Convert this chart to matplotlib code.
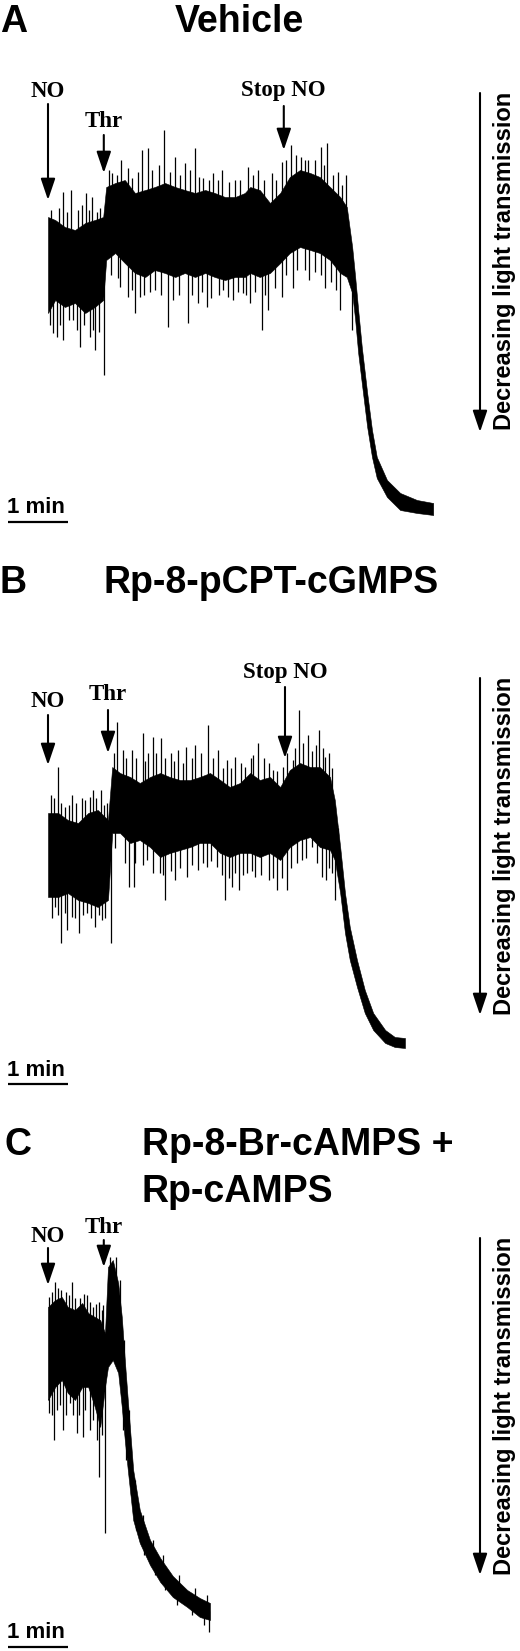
import numpy as np
import matplotlib
matplotlib.use('Agg')
import matplotlib.pyplot as plt
from matplotlib.transforms import blended_transform_factory as blend

W, H = 520, 1651
SANS = 'Liberation Sans'
SERIF = 'Liberation Serif'

# time in min (0 = NO added), light transmission in a.u. (0 = final level)
# dense band of the trace (upper / lower edge), tall spikes, and the
# shorter spikes that make the ragged edge of the band

# A  Vehicle
a_t = [0, .12, .28, .45, .62, .78, .92, .97, 1.12, 1.28, 1.45, 1.62, 1.78, 1.95, 2.12,
       2.28, 2.45, 2.62, 2.78, 2.95, 3.12, 3.28, 3.37, 3.53, 3.70, 3.87, 4.03, 4.20, 4.37,
       4.53, 4.70, 4.87, 4.98, 5.07, 5.12, 5.17, 5.23, 5.32, 5.40, 5.48, 5.65, 5.87, 6.15, 6.42]
a_hi = [293, 290, 283, 280, 287, 290, 293, 323, 327, 330, 317, 320, 323, 327, 323,
        320, 317, 320, 317, 313, 313, 317, 323, 320, 307, 317, 333, 340, 337,
        333, 323, 313, 303, 263, 233, 200, 163, 117, 80, 53, 30, 17, 10, 7]
a_lo = [197, 210, 203, 207, 197, 203, 210, 250, 257, 247, 237, 233, 240, 237, 233,
        237, 233, 237, 233, 230, 233, 233, 237, 233, 237, 247, 257, 263, 260,
        257, 250, 237, 233, 217, 190, 157, 127, 83, 53, 32, 13, 0, -3, -5]
a_up_t = [.25, .38, .63, .73, .87, 1.07, 1.22, 1.33, 1.57, 1.67, 1.93, 2.12, 2.28, 2.45, 2.58,
          2.75, 2.90, 3.12, 3.33, 3.50, 3.73, 3.90, 4.05, 4.22, 4.33, 4.55, 4.65, 4.83, 4.97]
a_up_v = [318, 320, 317, 313, 302, 337, 350, 342, 360, 362, 380, 353, 347, 362, 332,
          337, 340, 330, 343, 340, 337, 348, 365, 353, 350, 363, 367, 338, 335]
a_dn_t = [.08, .15, .25, .42, .53, .70, .78, .93, 1.20, 1.33, 1.45, 1.53, 1.78, 2.00, 2.08,
          2.33, 2.50, 2.65, 2.92, 3.08, 3.25, 3.37, 3.57, 3.67, 3.90, 4.08, 4.35, 4.62, 4.87, 5.07]
a_dn_v = [177, 173, 170, 190, 163, 173, 160, 135, 223, 213, 197, 213, 220, 183, 210,
          187, 207, 203, 220, 210, 217, 207, 180, 200, 213, 222, 230, 222, 200, 180]
a_up2_t = [.05, .18, .32, .50, .57, .68, .82, 1.02, 1.15, 1.40, 1.50, 1.73, 1.85, 2.03, 2.20,
           2.37, 2.52, 2.68, 2.83, 3.02, 3.20, 3.42, 3.60, 3.80, 3.97, 4.13, 4.28, 4.45, 4.60,
           4.75, 4.90]
a_up2_v = [300, 302, 298, 300, 305, 300, 298, 340, 335, 332, 338, 340, 345, 338, 335,
           340, 333, 330, 330, 328, 330, 335, 330, 330, 350, 355, 350, 350, 345,
           335, 325]
a_dn2_t = [.03, .20, .35, .48, .60, .75, .85, 1.05, 1.17, 1.40, 1.60, 1.70, 1.88, 2.18, 2.40,
           2.57, 2.72, 2.85, 3.00, 3.17, 3.30, 3.45, 3.62, 3.78, 3.97, 4.15, 4.28, 4.45, 4.55,
           4.72, 4.80]
a_dn2_v = [185, 185, 190, 180, 185, 180, 178, 235, 232, 220, 215, 218, 215, 215, 215,
           218, 212, 215, 213, 218, 215, 218, 215, 222, 235, 240, 240, 238, 235,
           228, 220]

# B  Rp-8-pCPT-cGMPS
b_t = [0, .17, .33, .5, .67, .83, 1.0, 1.07, 1.2, 1.37, 1.53, 1.7, 1.87, 2.03, 2.2, 2.37,
       2.53, 2.7, 2.87, 3.03, 3.2, 3.37, 3.53, 3.7, 3.87, 4.03, 4.2, 4.37, 4.53, 4.7,
       4.78, 4.87, 4.95, 5.03, 5.15, 5.28, 5.42, 5.62, 5.78, 5.95]
b_hi = [230, 230, 223, 220, 230, 233, 223, 276, 270, 266, 260, 266, 270, 266, 263, 263,
        266, 270, 263, 256, 260, 270, 263, 266, 256, 273, 280, 276, 276, 266,
        243, 196, 150, 116, 83, 53, 30, 13, 6, 5]
b_lo = [146, 146, 150, 143, 140, 136, 143, 210, 210, 200, 203, 196, 186, 190, 193, 196,
        200, 200, 190, 186, 190, 190, 186, 190, 183, 196, 203, 206, 196, 193,
        183, 150, 110, 83, 56, 30, 13, 0, -4, -5]
b_up_t = [.05, .17, .28, .40, .62, .70, .75, .88, .98, 1.15, 1.25, 1.40, 1.58, 1.67, 1.75, 1.88,
          2.05, 2.17, 2.30, 2.45, 2.67, 2.83, 2.98, 3.12, 3.28, 3.42, 3.50, 3.75, 3.92, 4.08,
          4.18, 4.33, 4.52, 4.62, 4.73, 4.83]
b_up_v = [248, 276, 236, 248, 243, 246, 253, 253, 240, 321, 293, 293, 310, 290, 306, 305,
          290, 293, 296, 298, 318, 293, 283, 286, 276, 288, 300, 273, 276, 283,
          333, 308, 313, 286, 275, 215]
b_dn_t = [.12, .22, .32, .40, .52, .65, .78, .90, 1.05, 1.35, 1.43, 1.65, 1.87, 1.95, 2.12, 2.32,
          2.50, 2.65, 2.82, 2.95, 3.07, 3.18, 3.32, 3.45, 3.68, 3.82, 3.98, 4.23, 4.40, 4.57,
          4.63, 4.78]
b_dn_v = [136, 100, 113, 126, 110, 130, 116, 123, 100, 156, 156, 183, 170, 143, 163, 166,
          173, 176, 176, 143, 156, 153, 170, 166, 163, 153, 153, 183, 196, 166,
          163, 143]
b_up2_t = [.10, .22, .35, .47, .57, .80, .93, 1.10, 1.30, 1.47, 1.62, 1.80, 1.95, 2.10, 2.25,
           2.40, 2.55, 2.75, 2.92, 3.05, 3.22, 3.38, 3.60, 3.68, 3.82, 3.98, 4.12, 4.25, 4.40,
           4.47, 4.58, 4.68]
b_up2_v = [245, 240, 238, 240, 245, 245, 238, 290, 285, 285, 282, 290, 285, 282, 280,
           285, 290, 285, 275, 275, 280, 285, 285, 280, 272, 290, 295, 300, 292,
           298, 295, 290]
b_dn2_t = [.07, .17, .28, .45, .58, .72, .85, .95, 1.12, 1.28, 1.45, 1.58, 1.75, 1.92, 2.05,
           2.20, 2.40, 2.58, 2.72, 2.90, 3.02, 3.12, 3.25, 3.40, 3.55, 3.75, 3.90, 4.05, 4.15,
           4.30, 4.48, 4.68, 4.73]
b_dn2_v = [125, 128, 130, 125, 128, 125, 128, 125, 195, 180, 180, 178, 170, 168, 172,
           175, 178, 180, 182, 168, 165, 170, 168, 172, 168, 165, 165, 175, 180,
           185, 180, 175, 170]

# C  Rp-8-Br-cAMPS + Rp-cAMPS
c_t = [0, .12, .23, .33, .45, .57, .67, .78, .87, .95, 1.0, 1.08, 1.17, 1.23, 1.28, 1.33,
       1.42, 1.53, 1.70, 1.87, 2.08, 2.32, 2.53, 2.70]
c_hi = [303, 310, 313, 303, 300, 307, 297, 293, 290, 277, 343, 350, 327, 293, 250, 210,
        140, 100, 70, 52, 34, 20, 12, 7]
c_lo = [210, 223, 230, 217, 210, 223, 223, 203, 183, 223, 243, 250, 237, 203, 170, 140,
        90, 67, 45, 28, 13, 3, -7, -10]
c_up_t = [.02, .12, .22, .40, .53, .65, .75, .85, .92, 1.03, 1.13]
c_up_v = [313, 328, 320, 328, 312, 315, 303, 308, 305, 353, 353]
c_dn_t = [.02, .10, .25, .37, .48, .58, .70, .82, .85, .95]
c_dn_v = [197, 170, 180, 207, 177, 173, 180, 170, 133, 77]
c_up2_t = [.07, .17, .30, .35, .45, .60, .70, .80, .90, 1.20, 1.27, 1.35, 1.45, 1.58, 1.75,
           1.92, 2.18, 2.45, 2.65]
c_up2_v = [318, 322, 318, 315, 312, 316, 308, 306, 300, 330, 270, 200, 130, 95, 70,
           55, 35, 22, 15]
c_dn2_t = [.06, .15, .20, .30, .42, .52, .62, .75, .90, 1.25, 1.30, 1.38, 1.47, 1.60, 1.78,
           1.95, 2.15, 2.40, 2.60, 2.68]
c_dn2_v = [195, 200, 205, 195, 195, 195, 200, 190, 175, 180, 150, 115, 80, 55, 35,
           20, 5, -5, -15, -22]

a_events = [('NO', 0.0), ('Thr', 0.93), ('Stop NO', 3.93)]
b_events = [('NO', 0.0), ('Thr', 1.0), ('Stop NO', 3.95)]
c_events = [('NO', 0.0), ('Thr', 0.93)]

YLABEL = 'Decreasing light transmission'


def fy(py):
    return 1 - py / H


fig = plt.figure(figsize=(W / 100, H / 100), dpi=100)

ARROW = dict(arrowstyle='-|>,head_length=0.65,head_width=0.22', lw=1.5, color='k',
             mutation_scale=20, shrinkA=0, shrinkB=0)


def panel(box, ylim, band, spikes, events, layout):
    top, bottom = box
    ax = fig.add_axes([0, fy(bottom), 1, (bottom - top) / H])
    ax.set_xlim(-0.8, 7.867)
    ax.set_ylim(*ylim)
    ax.axis('off')

    t, hi, lo = (np.array(v, dtype=float) for v in band)
    mid = (hi + lo) / 2
    ax.fill_between(t, lo, hi, color='k', lw=0.4)
    for st, sv in spikes:
        ax.vlines(st, np.interp(st, t, mid), sv, color='k', lw=0.9)

    tr = blend(ax.transData, fig.transFigure)
    for (name, te), (tail, tip, base) in zip(events, layout['arrows']):
        ax.annotate('', xy=(te, fy(tip)), xytext=(te, fy(tail)),
                    xycoords=tr, textcoords=tr, arrowprops=ARROW, annotation_clip=False)
        ax.text(te, fy(base), name, transform=tr, ha='center', va='baseline',
                family=SERIF, weight='bold', fontsize=16.5)

    # scale bar: 1 min
    y_bar = fy(layout['bar'])
    ax.plot([-0.667, 0.333], [y_bar, y_bar], transform=tr, color='k', lw=1.6,
            solid_capstyle='butt', clip_on=False)
    fig.text(7 / W, fy(layout['bar_text']), '1 min', ha='left', va='baseline',
             family=SANS, weight='bold', fontsize=16)

    # direction arrow
    y0, y1, yc = layout['side']
    fig.add_artist(matplotlib.patches.FancyArrowPatch(
        (480 / W, fy(y0)), (480 / W, fy(y1)), transform=fig.transFigure, **ARROW))
    fig.text(505 / W, fy(yc), YLABEL, rotation=90, ha='center', va='center',
             family=SANS, weight='bold', fontsize=17)

    # headings
    lx, tx, base = layout['head']
    fig.text(lx / W, fy(base), layout['letter'], ha='left', va='baseline',
             family=SANS, weight='bold', fontsize=27)
    for i, line in enumerate(layout['title']):
        fig.text(tx / W, fy(base + 47 * i), line, ha='left', va='baseline',
                 family=SANS, weight='bold', fontsize=27)


panel((100, 530), (-20, 410), (a_t, a_hi, a_lo),
      [(a_up_t, a_up_v), (a_dn_t, a_dn_v), (a_up2_t, a_up2_v), (a_dn2_t, a_dn2_v)], a_events,
      dict(arrows=[(104, 200, 97), (135, 173, 127), (106, 150, 96)],
           bar=522, bar_text=513, side=(93, 432, 261),
           head=(0, 175, 32), letter='A', title=['Vehicle']))

panel((640, 1070), (-27, 403), (b_t, b_hi, b_lo),
      [(b_up_t, b_up_v), (b_dn_t, b_dn_v), (b_up2_t, b_up2_v), (b_dn2_t, b_dn2_v)], b_events,
      dict(arrows=[(715, 765, 707), (710, 753, 700), (687, 758, 678)],
           bar=1084, bar_text=1076, side=(678, 1015, 846),
           head=(0, 103, 593), letter='B', title=['Rp-8-pCPT-cGMPS']))

panel((1200, 1651), (-41, 410), (c_t, c_hi, c_lo),
      [(c_up_t, c_up_v), (c_dn_t, c_dn_v), (c_up2_t, c_up2_v), (c_dn2_t, c_dn2_v)], c_events,
      dict(arrows=[(1248, 1285, 1242), (1240, 1267, 1233)],
           bar=1647, bar_text=1638, side=(1238, 1575, 1406),
           head=(4, 142, 1155), letter='C', title=['Rp-8-Br-cAMPS +', 'Rp-cAMPS']))

fig.savefig('out.png', dpi=100, facecolor='white')
